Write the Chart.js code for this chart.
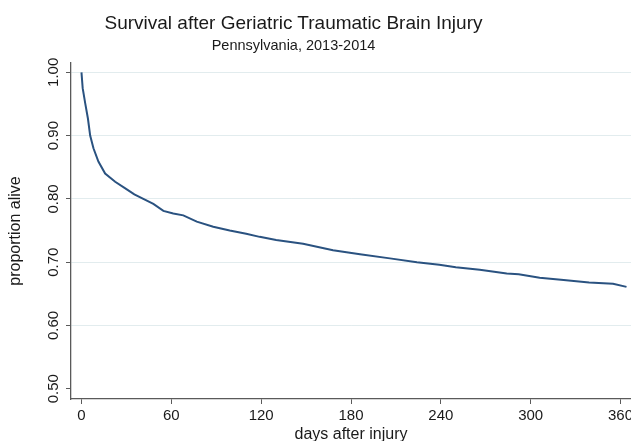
<!DOCTYPE html>
<html lang="en">

<head>
    <meta charset="UTF-8">
    <title>Survival after Geriatric Traumatic Brain Injury</title>
    <script src="https://cdn.jsdelivr.net/npm/chart.js"></script>
    <style>
        body { margin: 0; background: #fff; }
        .wrap { position: relative; width: 631px; height: 441px; overflow: hidden; }
        .title, .subtitle {
            position: absolute; left: 0; width: 587px; text-align: center;
            font-family: "Liberation Sans", Arial, sans-serif; color: #1a1a1a; line-height: 1;
            white-space: nowrap;
        }
        .title { top: 13px; font-size: 19px; }
        .subtitle { top: 38px; font-size: 14.5px; }
    </style>
</head>

<body>

    <div class="wrap">
        <canvas id="kmChart" width="631" height="441"></canvas>
        <div class="title">Survival after Geriatric Traumatic Brain Injury</div>
        <div class="subtitle">Pennsylvania, 2013-2014</div>
    </div>

    <script>
        // Kaplan-Meier estimate
        const days = [0, 0.8, 1.5, 2.5, 4.3, 5.8, 8, 11.3, 15.8, 22.5, 29, 35.3, 41.3, 48, 54.7, 61.3, 68, 77, 88, 99,
            110, 119, 130, 148, 168, 186, 206, 224, 239, 250, 266, 284, 292, 306, 322, 339, 355, 364];
        const survival = [1.000, 0.975, 0.965, 0.951, 0.927, 0.900, 0.880, 0.859, 0.840, 0.827, 0.817, 0.807, 0.800,
            0.792, 0.781, 0.777, 0.774, 0.764, 0.756, 0.750, 0.745, 0.740, 0.735, 0.729, 0.719, 0.7125, 0.706, 0.700,
            0.696, 0.692, 0.688, 0.682, 0.681, 0.6755, 0.672, 0.668, 0.666, 0.661];

        const xTicks = [0, 60, 120, 180, 240, 300, 360];
        const yTicks = [0.5, 0.6, 0.7, 0.8, 0.9, 1.0];

        const font = "'Liberation Sans', Arial, sans-serif";
        const axisColor = '#5a5a5a';

        const ctx = document.getElementById('kmChart').getContext('2d');

        const kmChart = new Chart(ctx, {
            type: 'scatter',
            data: {
                datasets: [{
                    data: days.map((d, i) => ({ x: d, y: survival[i] })),
                    showLine: true,
                    borderColor: 'rgb(42, 82, 128)',
                    borderWidth: 2,
                    pointRadius: 0,
                    tension: 0
                }]
            },
            options: {
                responsive: false,
                devicePixelRatio: 1,
                animation: false,
                layout: { padding: { top: 63, left: 0, right: 0, bottom: 0 } },
                plugins: {
                    legend: { display: false },
                    tooltip: { enabled: false }
                },
                scales: {
                    x: {
                        type: 'linear',
                        min: -7,
                        max: 367,
                        afterBuildTicks: (scale) => { scale.ticks = xTicks.map(v => ({ value: v })); },
                        afterFit: (scale) => {
                            scale.height = 42;
                            scale.paddingLeft = 0;
                            scale.paddingRight = 0;
                        },
                        grid: { drawOnChartArea: false, tickLength: 5, tickColor: axisColor },
                        border: { color: axisColor, width: 1.3 },
                        ticks: {
                            color: '#1a1a1a',
                            font: { family: font, size: 15 },
                            padding: 3,
                            maxRotation: 0,
                            autoSkip: false
                        },
                        title: {
                            display: true,
                            text: 'days after injury',
                            color: '#1a1a1a',
                            font: { family: font, size: 16, lineHeight: 0.8 },
                            padding: { top: 0, bottom: 0 }
                        }
                    },
                    y: {
                        min: 0.4838,
                        max: 1.0147,
                        afterBuildTicks: (scale) => { scale.ticks = yTicks.map(v => ({ value: v })); },
                        afterFit: (scale) => {
                            scale.width = 71;
                            scale.paddingTop = 0;
                            scale.paddingBottom = 0;
                        },
                        grid: {
                            color: (c) => (c.tick && c.tick.value === 0.5) ? 'rgba(0,0,0,0)' : '#e2ecee',
                            lineWidth: 1,
                            tickLength: 5,
                            tickColor: axisColor
                        },
                        border: { color: axisColor, width: 1.3 },
                        ticks: {
                            color: '#1a1a1a',
                            font: { family: font, size: 15 },
                            padding: -2,
                            minRotation: 90,
                            maxRotation: 90,
                            crossAlign: 'center',
                            autoSkip: false,
                            callback: (v) => Number(v).toFixed(2)
                        },
                        title: {
                            display: true,
                            text: 'proportion alive',
                            color: '#1a1a1a',
                            font: { family: font, size: 16, lineHeight: 1.2 },
                            padding: { top: 6, bottom: 0 }
                        }
                    }
                }
            }
        });
    </script>

</body>

</html>
